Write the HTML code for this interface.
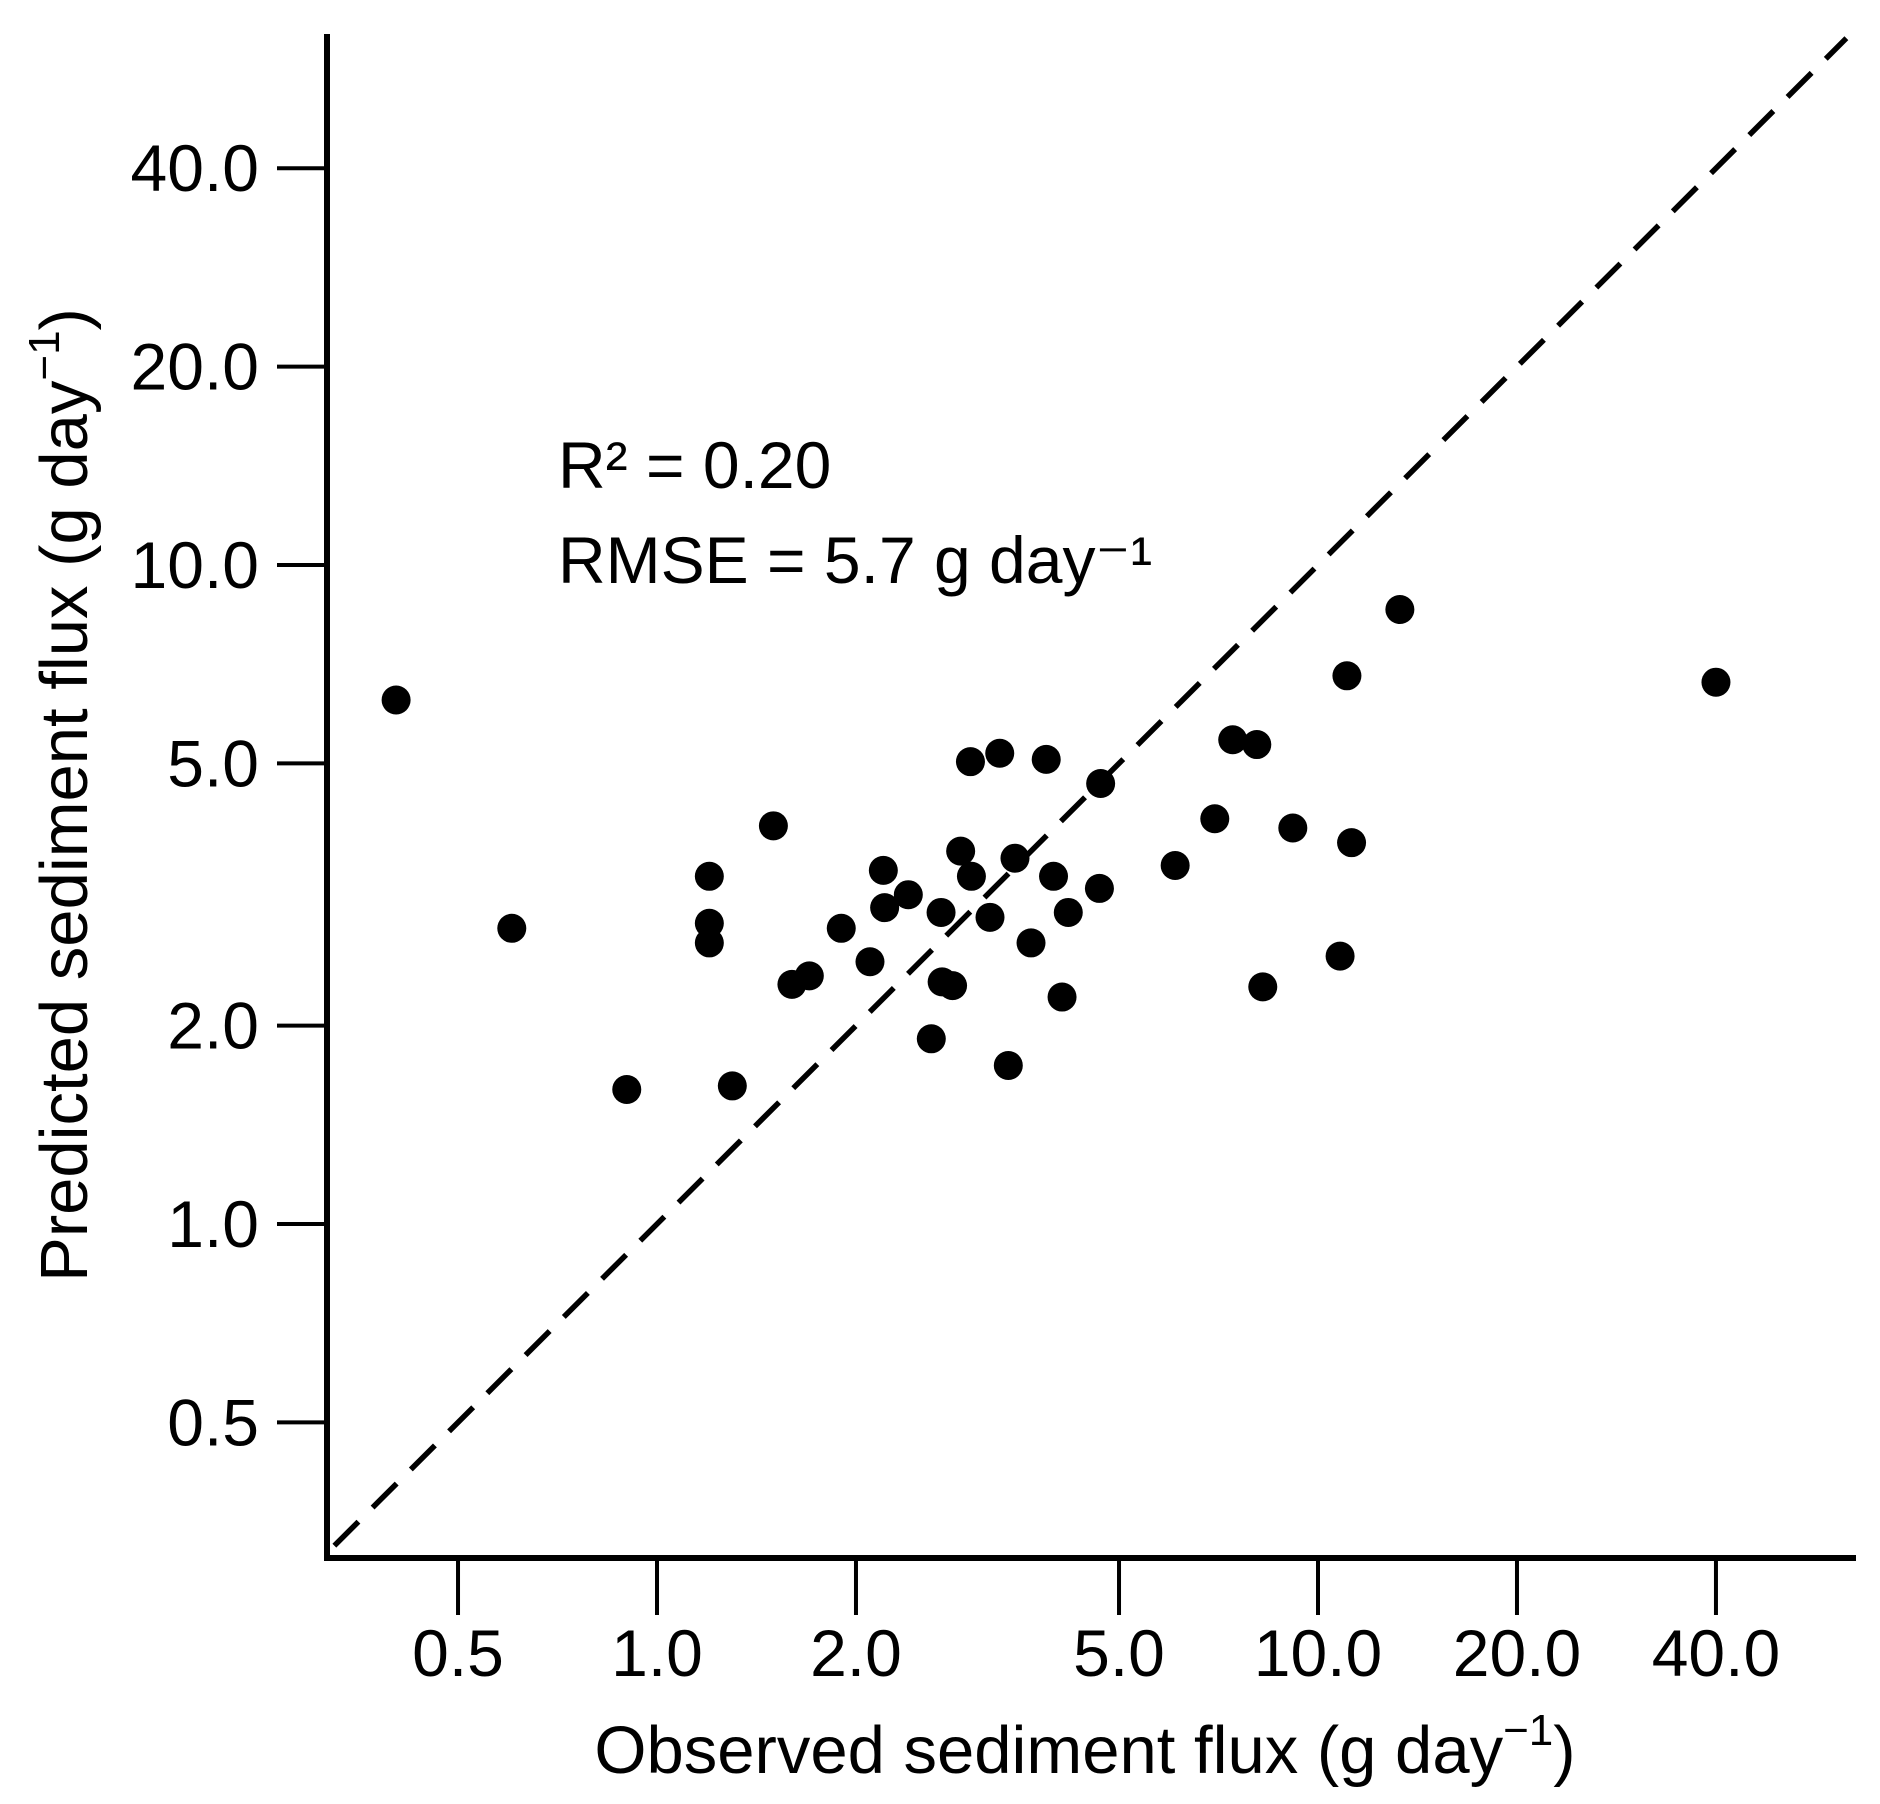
<!DOCTYPE html>
<html><head><meta charset="utf-8"><style>
html,body{margin:0;padding:0;background:#fff;}
svg{display:block;font-family:"Liberation Sans",Arial,sans-serif;}
</style></head><body>
<svg id="chart" width="1880" height="1804" viewBox="0 0 1880 1804" xmlns="http://www.w3.org/2000/svg">
<g id="plot"></g>
</svg>
<script>
const obsValues = [0.403,0.603,0.90,1.20,1.20,1.20,1.30,1.50,1.60,1.70,1.90,2.10,2.20,2.21,2.40,2.60,2.69,2.70,2.80,2.88,2.98,2.99,3.19,3.30,3.40,3.48,3.68,3.88,3.98,4.10,4.19,4.69,4.67,6.08,6.98,7.43,8.08,8.25,9.16,10.8,11.06,11.24,13.3,40.0];
const predValues = [6.24,2.81,1.60,3.37,2.86,2.67,1.62,4.02,2.31,2.38,2.81,2.50,3.44,3.02,3.16,1.91,2.97,2.33,2.30,3.68,5.03,3.37,2.92,5.18,1.74,3.59,2.67,5.07,3.37,2.21,2.97,4.66,3.23,3.50,4.12,5.43,5.34,2.29,3.99,2.55,6.79,3.79,8.56,6.64];
const xTicks = [0.5,1,2,5,10,20,40];
const xTickLabels = ["0.5","1.0","2.0","5.0","10.0","20.0","40.0"];
const yTicks = [0.5,1,2,5,10,20,40];
const yTickLabels = ["0.5","1.0","2.0","5.0","10.0","20.0","40.0"];
const oneToOne = [0.325,63];

const NS="http://www.w3.org/2000/svg";
const g=document.getElementById('plot');
function xPx(v){return 657+661*Math.log10(v);}
function yPx(v){return 1224-659*Math.log10(v);}
function mk(tag,attrs,parent){const e=document.createElementNS(NS,tag);for(const k in attrs)e.setAttribute(k,attrs[k]);(parent||g).appendChild(e);return e;}

let ln=mk('line',{x1:xPx(oneToOne[0]),y1:yPx(oneToOne[0]),x2:xPx(oneToOne[1]),y2:yPx(oneToOne[1]),stroke:'#000','stroke-width':5.5,'stroke-dasharray':'34 20'});



let ya=mk('line',{x1:327,y1:34,x2:327,y2:1561,stroke:'#000','stroke-width':6});


let xa=mk('line',{x1:324,y1:1558,x2:1856,y2:1558,stroke:'#000','stroke-width':6});



xTicks.forEach((v,i)=>{
  const x=xPx(v);
  let t=mk('line',{x1:x,y1:1558,x2:x,y2:1615,stroke:'#000','stroke-width':4});
  
  
  let l=mk('text',{x:x,y:1676,'font-size':66,'text-anchor':'middle'});
  l.textContent=xTickLabels[i];
  
  
});
yTicks.forEach((v,i)=>{
  const y=yPx(v);
  let t=mk('line',{x1:277,y1:y,x2:327,y2:y,stroke:'#000','stroke-width':4});
  
  
  let l=mk('text',{x:259,y:y+23,'font-size':66,'text-anchor':'end'});
  l.textContent=yTickLabels[i];
  
  
});

obsValues.forEach((v,i)=>{
  let c=mk('circle',{cx:xPx(v),cy:yPx(predValues[i]),r:14.5,fill:'#000'});
  
  
});

let xt=mk('text',{x:1085,y:1773,'font-size':67,'text-anchor':'middle'});
xt.innerHTML='Observed sediment flux (g day<tspan dy="-28" font-size="44">−1</tspan><tspan dy="28">)</tspan>';



let yt=mk('text',{x:0,y:0,'font-size':67,'text-anchor':'middle',transform:'translate(87,795) rotate(-90)'});
yt.innerHTML='Predicted sediment flux (g day<tspan dy="-28" font-size="44">−1</tspan><tspan dy="28">)</tspan>';



let a1=mk('text',{x:558,y:488,'font-size':66});
a1.textContent='R² = 0.20';


let a2=mk('text',{x:558,y:583,'font-size':66});
a2.textContent='RMSE = 5.7 g day⁻¹';


</script>
</body></html>
